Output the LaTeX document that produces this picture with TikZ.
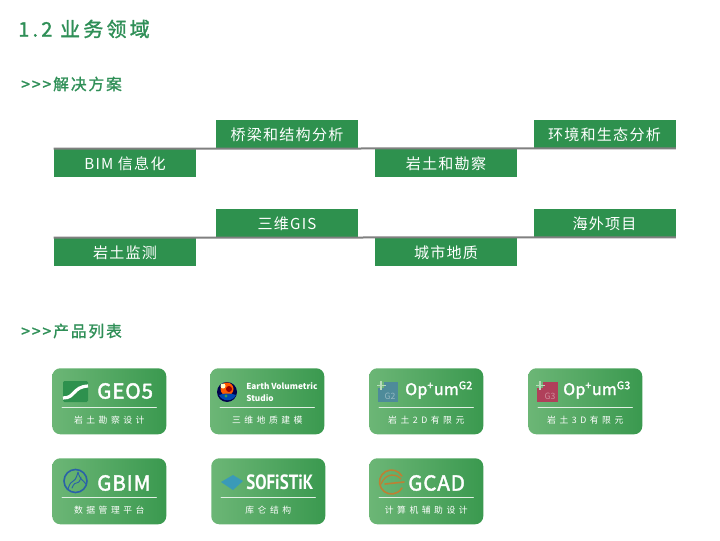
\documentclass[tikz,border=0pt]{standalone}
\usepackage{fontspec}
\setmainfont{Noto Sans CJK SC}
\newfontfamily\capfont[LetterSpace=40]{Noto Sans CJK SC}
\newfontfamily\barfont[LetterSpace=8]{Noto Sans CJK SC}
\newfontfamily\headfont[LetterSpace=12,FakeBold=1.5]{Noto Sans CJK SC}
\newfontfamily\titlefont[LetterSpace=16,FakeBold=1.5]{Noto Sans CJK SC}
\newfontfamily\logofont[LetterSpace=4,FakeBold=2]{Noto Sans CJK SC}
\newfontfamily\optfont[LetterSpace=2,FakeBold=2]{Noto Sans CJK SC}
\newfontfamily\softfont{PT Sans}
\usetikzlibrary{positioning,calc}
\definecolor{barG}{HTML}{2E914E}
\definecolor{headG}{HTML}{2F8F57}
\definecolor{lineG}{HTML}{808080}
\definecolor{cardL}{HTML}{6CB676}
\definecolor{cardR}{HTML}{3A994F}
\definecolor{optB}{HTML}{4E8B9A}
\definecolor{optR}{HTML}{B0405A}
\definecolor{gbimB}{HTML}{2A62A8}
\definecolor{sofB}{HTML}{3A9AB8}
\definecolor{gcadO}{HTML}{BD8034}
\tikzset{
	barbox/.style={fill=barG,minimum width=106.5pt,minimum height=21pt,inner sep=0pt,text=white,text height=11pt,text depth=1.5pt,font=\barfont\fontsize{11.3}{13}\selectfont},
	cardbox/.style={rounded corners=6pt,left color=cardL,right color=cardR,minimum width=85.5pt,minimum height=49.5pt,inner sep=0pt,anchor=north west},
	captxt/.style={text=white,font=\capfont\fontsize{6.6}{8}\selectfont},
	logotxt/.style={text=white,font=\logofont\fontsize{15.5}{18}\selectfont,anchor=west,inner sep=0pt},
	optxt/.style={text=white,font=\optfont\fontsize{12}{14}\selectfont,anchor=west,inner sep=0pt},
	headtxt/.style={text=headG,font=\headfont\fontsize{11.8}{13}\selectfont,anchor=west,inner sep=0pt}
}
\begin{document}
\begin{tikzpicture}[x=.75pt,y=-.75pt,line cap=round,line join=round]
	\useasboundingbox (0,0) rectangle (720,541);
	\node[text=headG,font=\titlefont\fontsize{15}{17}\selectfont,anchor=west,inner sep=0pt] (title) at (18,29) {1.2 业务领域};
	\node[headtxt] (solhead) at (21,84) {>{}>{}>\hspace{1.5pt}解决方案};
	\node[headtxt] (prodhead) at (21,331) {>{}>{}>\hspace{1.5pt}产品列表};
	% solution bars
	\node[barbox] (bim) at (125,163) {BIM 信息化};
	\node[barbox] (bridge) at (287,134) {桥梁和结构分析};
	\node[barbox] (geo) at (446,163) {岩土和勘察};
	\node[barbox] (env) at (604.5,134) {环境和生态分析};
	\node[barbox] (mon) at (125,252) {岩土监测};
	\node[barbox] (gis) at (287,223) {三维GIS};
	\node[barbox] (city) at (446,252) {城市地质};
	\node[barbox] (abroad) at (604.5,223) {海外项目};
	\draw[lineG,line width=1.5pt,line cap=butt] (bim.north west)--(env.south east);
	\draw[lineG,line width=1.5pt,line cap=butt] (mon.north west)--(abroad.south east);
	% product cards
	\foreach \nm/\x/\y/\capt in {geofive/52/368/岩土勘察设计,evs/210/368/三维地质建模,gtwo/369/368/岩土2D有限元,gthree/528/368/岩土3D有限元,gbim/52/458/数据管理平台,sof/211/458/库仑结构,gcad/369/458/计算机辅助设计}{
		\node[cardbox] (\nm) at (\x,\y) {};
		\draw[white!85!cardR,line width=.5pt] ($(\nm.north west)+(10,39.5)$)--($(\nm.north east)+(-10,39.5)$);
		\node[captxt] (\nm cap) at ($(\nm.north)+(0,52)$) {\capt};
	}
	% logos
	\node[logotxt] (geofivetxt) at (97,391) {GEO5};
	\fill[rounded corners=1pt,fill=barG] (63,381) rectangle (88,402);
	\draw[white,line width=2.4pt,line cap=butt] (63,398) .. controls (76,398) and (72,387) .. (88,386);
	\fill[black!70!blue] (227,392) circle (10);
	\fill[orange!70!red] (227,389) circle (6.5);
	\fill[red!60!black] (229,389) circle (3);
	\fill[white!80!yellow] (223,386) circle (2.5);
	\fill[blue!60!cyan!70!black] (219,395) .. controls (224,393) and (231,393) .. (236,395) .. controls (233,402) and (222,402) .. cycle;
	\fill[cardR] (226,396) circle (1.7);
	\node[inner sep=0pt,anchor=west,text=white,font=\bfseries\fontsize{6.2}{9.5}\selectfont,align=left] (evstxt) at (246,392) {Earth Volumetric\\Studio};
	\fill[optB] (378,382) rectangle (398,402);
	\fill[cardL] (378,382) rectangle (384,388);
	\draw[white!50!cardL,line width=1pt,line cap=butt] (377,385.5) -- (386,385.5) (381,381) -- (381,390);
	\node[inner sep=0pt,text=white!40!optB,font=\fontsize{6.5}{8}\selectfont] (gtwoicon) at (390,396) {G2};
	\node[optxt] (gtwotxt) at (405,390) {Op\textsuperscript{+}um\textsuperscript{G2}};
	\fill[optR] (537,382) rectangle (558,402);
	\fill[cardL] (537,382) rectangle (543,388);
	\draw[white!50!cardL,line width=1pt,line cap=butt] (536,385.5) -- (545,385.5) (540,381) -- (540,390);
	\node[inner sep=0pt,text=white!40!optR,font=\fontsize{6.5}{8}\selectfont] (gthreeicon) at (550,396) {G3};
	\node[optxt] (gthreetxt) at (563,390) {Op\textsuperscript{+}um\textsuperscript{G3}};
	\node[logotxt] (gbimtxt) at (97,483) {GBIM};
	\draw[gbimB,line width=1.2pt] (75.5,481) circle (11.5);
	\draw[gbimB,line width=.7pt] (68,489) .. controls (72,476) and (74,487) .. (78,472) .. controls (80,480) and (83,480) .. (86,484);
	\draw[gbimB,line width=.7pt] (72,488) .. controls (76,478) and (78,488) .. (81,477);
	\fill[sofB] (221,482) -- (233,475) -- (243,481) -- (233,490) -- cycle;
	\node[anchor=west,inner sep=0pt,text=white,font=\softfont\bfseries\fontsize{15.5}{17}\selectfont] (softxt) at (246,482) {\scalebox{.82}[1]{SOFiSTiK}};
	\draw[gcadO,line width=1.2pt] (401.9,476) arc (-30:-330:12);
	\draw[gcadO,line width=1.2pt] (385,484) -- (404,482);
	\draw[gcadO,line width=1pt] (381,484) .. controls (386,472) and (397,474) .. (401,479);
	\node[logotxt] (gcadtxt) at (408,483) {GCAD};
\end{tikzpicture}
\end{document}
